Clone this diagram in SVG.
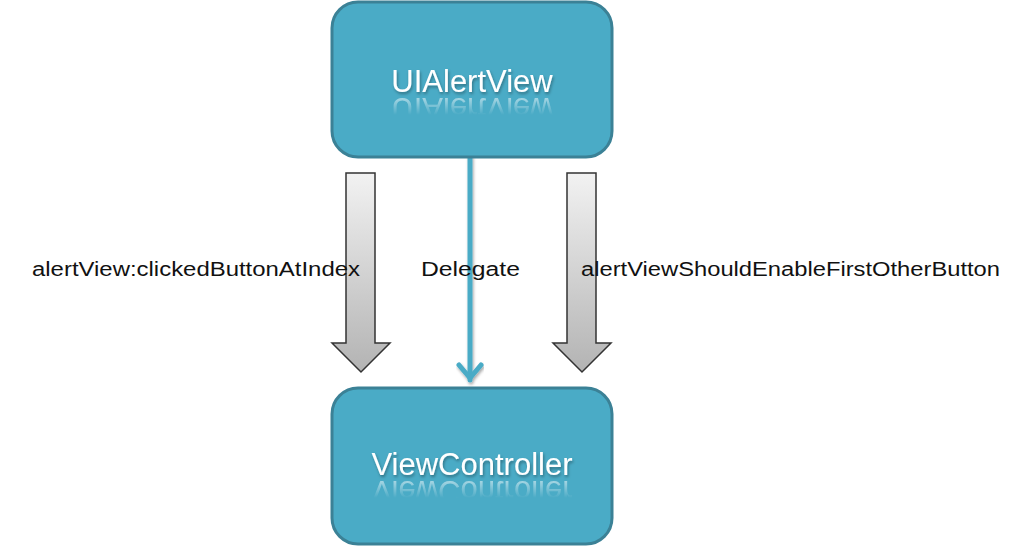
<svg xmlns="http://www.w3.org/2000/svg" width="1024" height="548" viewBox="0 0 1024 548">
<defs>
<style>
.box{fill:#4aabc6;stroke:#3b8196;stroke-width:3}
.title{font-family:"Liberation Sans",Arial,sans-serif;font-size:31px;fill:#ffffff;text-anchor:middle}
.refl{font-family:"Liberation Sans",Arial,sans-serif;font-size:31px;fill:#ffffff;text-anchor:middle}
.lbl{font-family:"Liberation Sans",Arial,sans-serif;font-size:20px;fill:#111111}
.garrow{fill:url(#gg);stroke:#333333;stroke-width:1.5;stroke-linejoin:miter}
</style>
<linearGradient id="gg" x1="0" y1="0" x2="0" y2="1">
<stop offset="0" stop-color="#f2f2f2"/>
<stop offset="1" stop-color="#b3b3b3"/>
</linearGradient>
<linearGradient id="fade" x1="0" y1="0" x2="0" y2="1">
<stop offset="0" stop-color="#fff" stop-opacity="0.6"/>
<stop offset="1" stop-color="#fff" stop-opacity="0"/>
</linearGradient>
<mask id="m1" maskUnits="userSpaceOnUse" x="0" y="0" width="1024" height="548">
<rect x="330" y="95" width="290" height="20" fill="url(#fade)"/>
</mask>
<mask id="m2" maskUnits="userSpaceOnUse" x="0" y="0" width="1024" height="548">
<rect x="330" y="478" width="290" height="20" fill="url(#fade)"/>
</mask>
<filter id="sh" x="-10%" y="-30%" width="120%" height="160%">
<feDropShadow dx="1" dy="2" stdDeviation="1.5" flood-color="#000" flood-opacity="0.35"/>
</filter>
</defs>

<g id="connectors">
<path class="garrow" d="M346,173 H375 V343 H390 L361,372 L332,343 H346 Z"/>
<path class="garrow" d="M567,173 H596 V343 H611 L582,372 L553,343 H567 Z"/>
<g stroke="#4aabc6" stroke-width="5" fill="none" stroke-linecap="round" stroke-linejoin="round" filter="url(#sh)">
<line x1="470" y1="157" x2="470" y2="380"/>
<polyline points="459,365 470,378 481,365"/>
</g>
<text class="lbl" x="32" y="276" textLength="328" lengthAdjust="spacingAndGlyphs">alertView:clickedButtonAtIndex</text>
<text class="lbl" x="421" y="276" textLength="99" lengthAdjust="spacingAndGlyphs">Delegate</text>
<text class="lbl" x="581" y="276" textLength="419" lengthAdjust="spacingAndGlyphs">alertViewShouldEnableFirstOtherButton</text>
</g>

<g id="uialertview">
<rect class="box" x="332" y="2" width="280" height="155" rx="26" ry="26"/>
<text class="title" x="472" y="92" filter="url(#sh)">UIAlertView</text>
<g mask="url(#m1)"><text class="refl" transform="translate(0,190) scale(1,-1)" x="472" y="92">UIAlertView</text></g>
</g>

<g id="viewcontroller">
<rect class="box" x="332" y="388" width="280" height="156" rx="26" ry="26"/>
<text class="title" x="472" y="475" filter="url(#sh)">ViewController</text>
<g mask="url(#m2)"><text class="refl" transform="translate(0,956) scale(1,-1)" x="472" y="475">ViewController</text></g>
</g>
</svg>
